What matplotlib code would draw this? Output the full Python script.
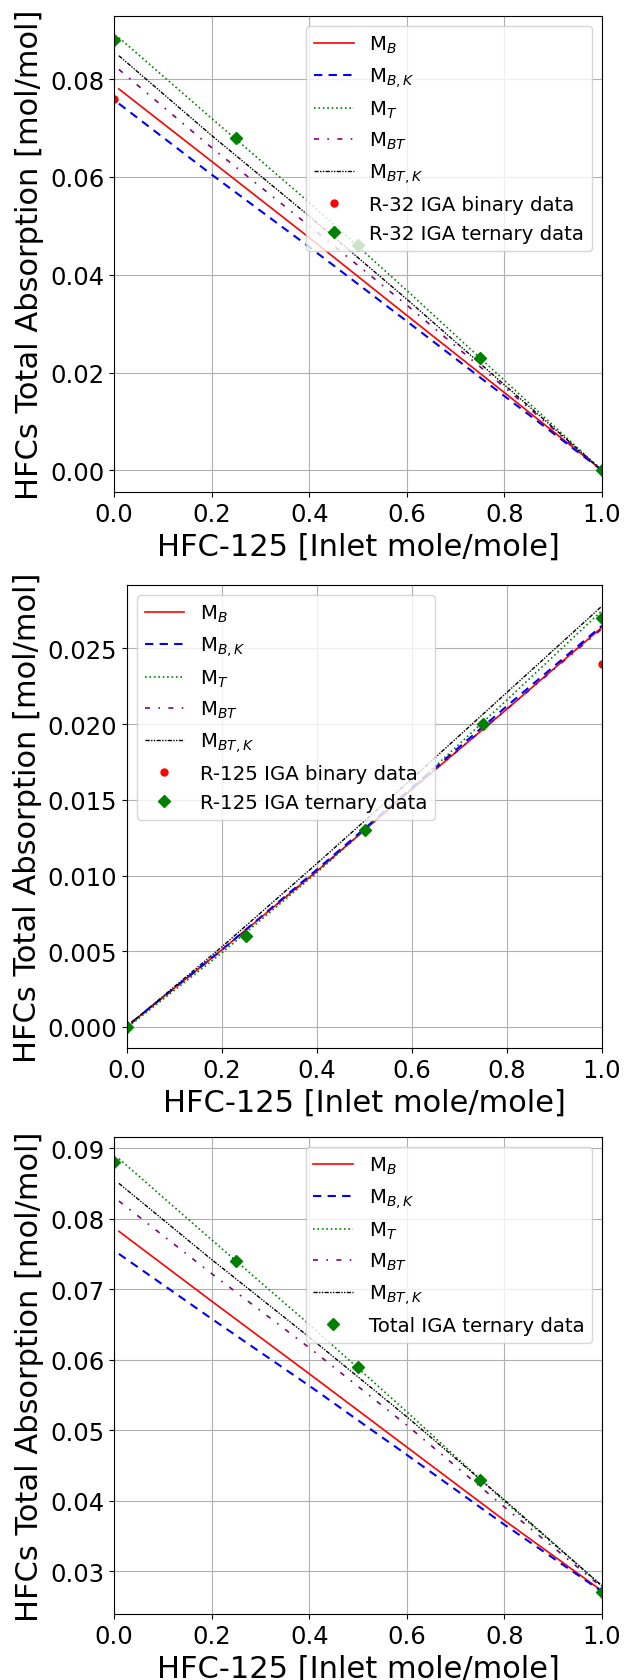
import numpy as np
import matplotlib
matplotlib.use("Agg")
import matplotlib.pyplot as plt

# ── model curves sampled at these inlet fractions ──
x_model = [0.01, 0.2, 0.4, 0.6, 0.8, 1.0]
x_data = [0.0, 0.25, 0.5, 0.75, 1.0]
x_binary = [0.0, 1.0]

# R-32 absorption
r32_MB = [0.0780, 0.0632, 0.0476, 0.0317, 0.0159, 0.0]
r32_MBK = [0.0750, 0.0605, 0.0457, 0.0305, 0.0152, 0.0]
r32_MT = [0.0885, 0.0720, 0.0548, 0.0368, 0.0184, 0.0]
r32_MBT = [0.0820, 0.0660, 0.0500, 0.0338, 0.0170, 0.0]
r32_MBTK = [0.0848, 0.0685, 0.0520, 0.0350, 0.0175, 0.0]
r32_binary = [0.076, 0.0]
r32_ternary = [0.088, 0.068, 0.046, 0.023, 0.0]

# R-125 absorption
r125_MB = [0.0003, 0.0051, 0.0103, 0.0157, 0.0210, 0.0264]
r125_MBK = [0.0003, 0.0051, 0.0104, 0.0158, 0.0212, 0.0265]
r125_MT = [0.0002, 0.0049, 0.0102, 0.0158, 0.0216, 0.0275]
r125_MBT = [0.0003, 0.0051, 0.0103, 0.0157, 0.0210, 0.0263]
r125_MBTK = [0.0003, 0.0053, 0.0108, 0.0164, 0.0221, 0.0278]
r125_binary = [0.0, 0.024]
r125_ternary = [0.0, 0.006, 0.013, 0.020, 0.027]

# total absorption
tot_MB = [0.0782, 0.0683, 0.0580, 0.0476, 0.0372, 0.0272]
tot_MBK = [0.0750, 0.0658, 0.0563, 0.0465, 0.0366, 0.0271]
tot_MT = [0.0885, 0.0770, 0.0650, 0.0526, 0.0399, 0.0279]
tot_MBT = [0.0825, 0.0722, 0.0617, 0.0507, 0.0391, 0.0277]
tot_MBTK = [0.0850, 0.0742, 0.0632, 0.0519, 0.0401, 0.0279]
tot_ternary = [0.088, 0.074, 0.059, 0.043, 0.027]

LINE_STYLES = [
    (r"M$_{B}$", "red", "-", 1.2),
    (r"M$_{B,K}$", "blue", (0, (4, 3)), 1.5),
    (r"M$_{T}$", "green", ":", 1.2),
    (r"M$_{BT}$", "purple", (0, (3, 5, 1, 5)), 1.2),
    (r"M$_{BT,K}$", "black", (0, (3, 1, 1, 1, 1, 1)), 1.0),
]


def draw_panel(ax, curves, binary, ternary, species, legend_loc):
    for (label, color, ls, lw), y in zip(LINE_STYLES, curves):
        ax.plot(x_model, y, color=color, linestyle=ls, linewidth=lw, label=label)
    if binary is not None:
        ax.plot(x_binary, binary, "o", color="red", markersize=5,
                linestyle="none", label=f"{species} IGA binary data")
    ax.plot(x_data, ternary, "D", color="green", markersize=6.5,
            linestyle="none", label=f"{species} IGA ternary data")
    ax.set_xlim(0, 1)
    ax.grid(True)
    ax.tick_params(labelsize=17.5)
    ax.set_xlabel("HFC-125 [Inlet mole/mole]", fontsize=22)
    ax.set_ylabel("HFCs Total Absorption [mol/mol]", fontsize=22)
    ax.legend(loc=legend_loc, fontsize=14.2)


fig = plt.figure(figsize=(6.25, 16.81), dpi=100)
W, H = 625.0, 1681.0

ax1 = fig.add_axes([114 / W, 1 - 493 / H, 488 / W, 476 / H])
ax2 = fig.add_axes([127 / W, 1 - 1049 / H, 475 / W, 463 / H])
ax3 = fig.add_axes([114 / W, 1 - 1615 / H, 488 / W, 477 / H])

draw_panel(ax1, [r32_MB, r32_MBK, r32_MT, r32_MBT, r32_MBTK],
           r32_binary, r32_ternary, "R-32", "upper right")
draw_panel(ax2, [r125_MB, r125_MBK, r125_MT, r125_MBT, r125_MBTK],
           r125_binary, r125_ternary, "R-125", "upper left")
draw_panel(ax3, [tot_MB, tot_MBK, tot_MT, tot_MBT, tot_MBTK],
           None, tot_ternary, "Total", "upper right")

fig.savefig("out.png", dpi=100)
